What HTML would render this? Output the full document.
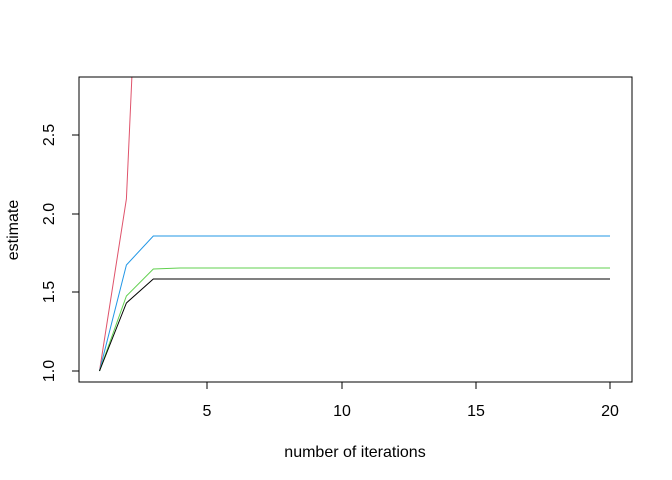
<!DOCTYPE html>
<html><head><style>body{margin:0;background:#fff}svg{display:block}</style></head><body>
<svg width="672" height="480" xmlns="http://www.w3.org/2000/svg" font-family="Liberation Sans, Arial, sans-serif" font-size="16">
<rect width="672" height="480" fill="#fff"/>
<defs><clipPath id="c"><rect x="79" y="77" width="553" height="305"/></clipPath></defs>
<g clip-path="url(#c)" fill="none" stroke-width="1">
<polyline stroke="#DF536B" points="99.5,371 126.4,199 153.3,-400"/>
<polyline stroke="#2297E6" points="99.5,371 126.4,265 153.3,236 610,236"/>
<polyline stroke="#61D04F" points="99.5,371 126.4,296 153.3,269 180,268 610,268"/>
<polyline stroke="#000" points="99.5,371 126.4,303 153.3,279 610,279"/>
</g>
<rect x="79" y="77" width="553" height="305" fill="none" stroke="#000"/>
<g stroke="#000">
<line x1="207" y1="382" x2="610" y2="382"/>
<line x1="207" y1="382" x2="207" y2="389"/><line x1="342" y1="382" x2="342" y2="389"/>
<line x1="476" y1="382" x2="476" y2="389"/><line x1="610" y1="382" x2="610" y2="389"/>
<line x1="79" y1="135" x2="79" y2="371"/>
<line x1="79" y1="371" x2="72" y2="371"/><line x1="79" y1="292" x2="72" y2="292"/>
<line x1="79" y1="214" x2="72" y2="214"/><line x1="79" y1="135" x2="72" y2="135"/>
</g>
<g text-anchor="middle" fill="#000">
<text x="207" y="416">5</text><text x="342" y="416">10</text><text x="476" y="416">15</text><text x="610" y="416">20</text>
<text transform="translate(54,371) rotate(-90)">1.0</text>
<text transform="translate(54,292) rotate(-90)">1.5</text>
<text transform="translate(54,214) rotate(-90)">2.0</text>
<text transform="translate(54,135) rotate(-90)">2.5</text>
<text x="355" y="457">number of iterations</text>
<text transform="translate(18,230) rotate(-90)">estimate</text>
</g>
</svg>
</body></html>
